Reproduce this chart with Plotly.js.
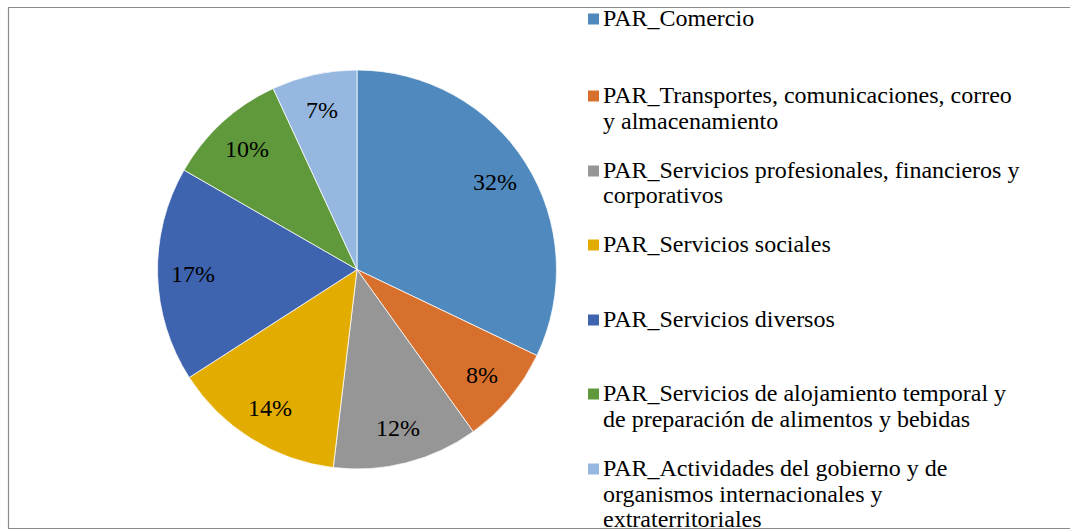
<!DOCTYPE html>
<html>
<head>
<meta charset="utf-8">
<script src="https://cdn.plot.ly/plotly-3.0.1.min.js"></script>
<style>html,body{margin:0;padding:0;background:#fff;}#chart{width:1070px;height:531px;}</style>
</head>
<body>
<div id="chart"></div>
<script>
// Data
const categories = [
  "PAR_Comercio",
  "PAR_Transportes, comunicaciones, correo y almacenamiento",
  "PAR_Servicios profesionales, financieros y corporativos",
  "PAR_Servicios sociales",
  "PAR_Servicios diversos",
  "PAR_Servicios de alojamiento temporal y de preparación de alimentos y bebidas",
  "PAR_Actividades del gobierno y de organismos internacionales y extraterritoriales"
];
const shares = [32.1, 8.0, 11.8, 14.0, 17.4, 9.8, 6.9];
const legendLines = [
  ["PAR_Comercio"],
  ["PAR_Transportes, comunicaciones, correo", "y almacenamiento"],
  ["PAR_Servicios profesionales, financieros y", "corporativos"],
  ["PAR_Servicios sociales"],
  ["PAR_Servicios diversos"],
  ["PAR_Servicios de alojamiento temporal y", "de preparación de alimentos y bebidas"],
  ["PAR_Actividades del gobierno y de", "organismos internacionales y", "extraterritoriales"]
];
const colors = ["#4F89BE", "#D6702C", "#969696", "#E2AC00", "#3E63AF", "#5F993B", "#96B8E0"];

const W = 1070, H = 531;
const FONT = "Liberation Serif";
const FS = 24;

// pie geometry (domain)
const CX = 357, CY = 269.5, R = 199.5;

const trace = {
  type: "pie",
  labels: categories,
  values: shares,
  sort: false,
  direction: "clockwise",
  rotation: 0,
  marker: {colors: colors, line: {color: "#ffffff", width: 0.75}},
  textinfo: "none",
  hoverinfo: "label+percent",
  showlegend: false,
  domain: {x: [(CX - R) / W, (CX + R) / W], y: [1 - (CY + R) / H, 1 - (CY - R) / H]}
};

const annotations = [];
const shapes = [];

// percentage labels along each slice's bisector (Excel-like placement)
const total = shares.reduce((a, b) => a + b, 0);
let cum = 0;
shares.forEach((v) => {
  const mid = (cum + v / 2) / total * 2 * Math.PI;
  cum += v;
  const rr = 0.82 * R;
  const px = CX + rr * Math.sin(mid);
  const py = CY - rr * Math.cos(mid);
  annotations.push({
    xref: "paper", yref: "paper",
    x: px / W, y: 1 - py / H, xanchor: "center", yanchor: "middle",
    text: Math.round(v / total * 100) + "%", showarrow: false,
    font: {family: FONT, size: FS, color: "#000000"}
  });
});

// custom legend (Excel-style fixed spacing)
const itemTop = [18, 95, 170, 244, 319, 393, 468];
const lineH = 25.5;
legendLines.forEach((lines, i) => {
  lines.forEach((ln, j) => {
    annotations.push({
      xref: "paper", yref: "paper",
      x: 601 / W, y: 1 - (itemTop[i] + j * lineH) / H,
      xanchor: "left", yanchor: "middle",
      text: ln, showarrow: false,
      font: {family: FONT, size: FS, color: "#000000"}
    });
  });
  const cy = itemTop[i] + 1;
  shapes.push({
    type: "rect", xref: "paper", yref: "paper",
    x0: 588 / W, x1: 599 / W, y0: 1 - (cy + 5.5) / H, y1: 1 - (cy - 5.5) / H,
    fillcolor: colors[i], line: {width: 0}
  });
});
// outer frame
shapes.push({
  type: "rect", xref: "paper", yref: "paper",
  x0: 8.5 / W, x1: 1080 / W, y0: 1 - 528.5 / H, y1: 1 - 7.5 / H,
  line: {color: "#8C8C8C", width: 1.2}, fillcolor: "rgba(0,0,0,0)"
});

const layout = {
  width: W, height: H,
  margin: {l: 0, r: 0, t: 0, b: 0},
  paper_bgcolor: "#ffffff",
  plot_bgcolor: "#ffffff",
  showlegend: false,
  annotations: annotations,
  shapes: shapes
};

Plotly.newPlot("chart", [trace], layout, {displayModeBar: false, staticPlot: true});
</script>
</body>
</html>
